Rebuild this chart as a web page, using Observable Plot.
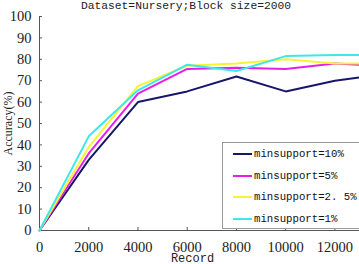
<!DOCTYPE html>
<html><head><meta charset="utf-8">
<script src="https://cdn.jsdelivr.net/npm/d3@7"></script>
<script src="https://cdn.jsdelivr.net/npm/@observablehq/plot@0.6"></script>
<style>
body{margin:0;background:#fff;}
#wrap{position:relative;width:359px;height:264px;overflow:hidden;}
#title{position:absolute;left:0;width:372px;top:0px;line-height:11px;text-align:center;font:11.3px "Liberation Mono",monospace;color:#222;white-space:nowrap;}
#legend{position:absolute;left:222px;top:142px;width:140px;height:87px;border:1px solid #999;background:#fff;box-sizing:border-box;}
.row{position:absolute;left:10px;height:14px;font:10.7px "Liberation Mono",monospace;color:#111;white-space:nowrap;}
.row span.sw{display:inline-block;width:19px;height:2px;vertical-align:middle;margin-right:2px;}
#xlabel{position:absolute;left:0;width:385px;top:252px;line-height:12px;text-align:center;font:12px "Liberation Mono",monospace;color:#222;}
#ylabel{position:absolute;left:-32px;top:116px;width:80px;text-align:center;transform:rotate(-90deg);font:12px "Liberation Serif",serif;color:#222;}
</style></head>
<body><div id="wrap"><div id="chart"></div><div id="title"></div><div id="xlabel"></div><div id="ylabel"></div><div id="legend"></div></div>
<script>
const records = [0, 2000, 4000, 6000, 8000, 10000, 12000, 13000];
const series = ["minsupport=10%", "minsupport=5%", "minsupport=2.5%", "minsupport=1%"];
const legendLabels = ["minsupport=10%", "minsupport=5%", "minsupport=2. 5%", "minsupport=1%"];
const colors = ["#16166a", "#e81ee8", "#f4f432", "#3ee8e8"];
const acc10 = [0, 33, 60, 65, 72, 65, 70, 71.5];
const acc5 = [0, 36, 64, 75.5, 76, 75.5, 78, 77.5];
const acc25 = [0, 39, 67.5, 77, 78, 80, 78, 78];
const acc1 = [0, 44, 65.5, 77.5, 74.5, 81.5, 82, 82];
const xTicks = [0, 2000, 4000, 6000, 8000, 10000, 12000];
const yTicks = [0, 10, 20, 30, 40, 50, 60, 70, 80, 90, 100];
const titleText = "Dataset=Nursery;Block size=2000";
const xLabel = "Record";
const yLabel = "Accuracy(%)";

const allSeries = [acc10, acc5, acc25, acc1];
const data = [];
allSeries.forEach((vals, i) => vals.forEach((v, j) => data.push({s: series[i], x: records[j], y: v})));

const chart = Plot.plot({
  width: 359, height: 264,
  marginLeft: 39, marginRight: 0, marginTop: 16, marginBottom: 34,
  x: {domain: [0, 13000], axis: null},
  y: {domain: [0, 100], axis: null},
  color: {domain: series, range: colors},
  style: {background: "#fff", overflow: "visible"},
  marks: [
    Plot.ruleX([0], {y1: 0, y2: 100, stroke: "#555"}),
    Plot.ruleY([0], {x1: 0, x2: 13000, stroke: "#555"}),
    Plot.ruleX(xTicks.slice(1), {y1: 0, y2: 1.4, stroke: "#555"}),
    Plot.ruleY(yTicks.slice(1), {x1: 0, x2: 120, stroke: "#555"}),
    Plot.text(yTicks, {x: 0, y: d => d, text: d => String(d), textAnchor: "end", dx: -8, fontSize: 14.5, fontFamily: "Liberation Serif", fill: "#222"}),
    Plot.text(xTicks, {x: d => d, y: 0, text: d => String(d), dy: 17, fontSize: 14.5, fontFamily: "Liberation Serif", fill: "#222"}),
    Plot.line(data, {x: "x", y: "y", z: "s", stroke: "s", strokeWidth: 2})
  ]
});
document.getElementById("chart").appendChild(chart);
document.getElementById("title").textContent = titleText;
document.getElementById("xlabel").textContent = xLabel;
document.getElementById("ylabel").textContent = yLabel;
const lg = document.getElementById("legend");
legendLabels.forEach((t, i) => {
  const r = document.createElement("div");
  r.className = "row";
  r.style.top = (5 + i * 21.5) + "px";
  const sw = document.createElement("span");
  sw.className = "sw"; sw.style.background = colors[i];
  r.appendChild(sw);
  r.appendChild(document.createTextNode(t));
  lg.appendChild(r);
});
</script></body></html>
